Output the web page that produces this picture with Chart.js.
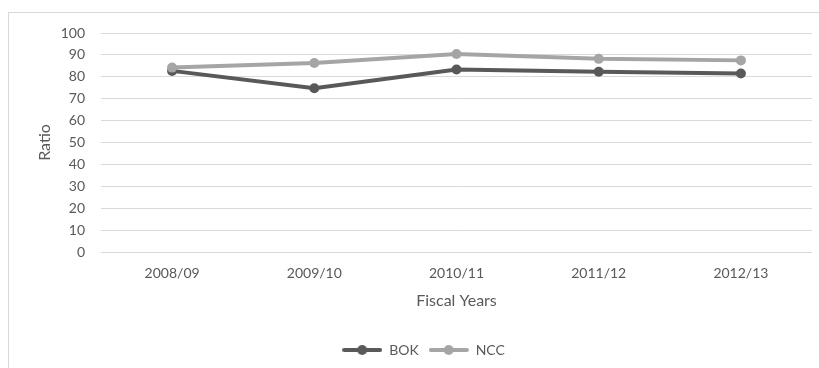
<!DOCTYPE html>
<html>
<head>
<meta charset="utf-8">
<script src="https://cdn.jsdelivr.net/npm/chart.js@4/dist/chart.umd.min.js"></script>
<style>
  html, body { margin: 0; padding: 0; background: #ffffff; overflow: hidden; }
  #frame { position: absolute; left: 8px; top: 12px; width: 830px; height: 380px;
           border: 1px solid #d9d9d9; box-sizing: border-box; }
  #wrap { position: absolute; left: 0; top: 0; width: 819px; height: 368px; }
</style>
</head>
<body>
<div id="frame"></div>
<div id="wrap"><canvas id="chart" width="819" height="368"></canvas></div>
<script>
// Fiscal years and the ratio for each institution
const fiscalYears = ['2008/09', '2009/10', '2010/11', '2011/12', '2012/13'];
const bokRatio = [82.7, 74.8, 83.3, 82.3, 81.5];
const nccRatio = [84.2, 86.3, 90.4, 88.2, 87.5];
const yTicks = [0, 10, 20, 30, 40, 50, 60, 70, 80, 90, 100];

const BOK_COLOR = '#595959';
const NCC_COLOR = '#a5a5a5';
const TEXT_COLOR = '#595959';
const GRID_COLOR = '#d9d9d9';
const FONT = 'Lato, "Open Sans", sans-serif';

// Legend marker: a short line with a dot in the middle
function legendMarker(color) {
  const c = document.createElement('canvas');
  c.width = 40; c.height = 12;
  const g = c.getContext('2d');
  g.strokeStyle = color; g.lineWidth = 4; g.lineCap = 'round';
  g.beginPath(); g.moveTo(2, 6); g.lineTo(38, 6); g.stroke();
  g.fillStyle = color;
  g.beginPath(); g.arc(20, 6, 5, 0, Math.PI * 2); g.fill();
  return c;
}

new Chart(document.getElementById('chart'), {
  type: 'line',
  data: {
    labels: fiscalYears,
    datasets: [
      { label: 'BOK', data: bokRatio, borderColor: BOK_COLOR, backgroundColor: BOK_COLOR,
        borderWidth: 4, pointRadius: 5, pointBorderWidth: 0, pointBackgroundColor: BOK_COLOR,
        tension: 0, order: 2, pointStyle: 'circle', legendMarker: legendMarker(BOK_COLOR) },
      { label: 'NCC', data: nccRatio, borderColor: NCC_COLOR, backgroundColor: NCC_COLOR,
        borderWidth: 4, pointRadius: 5, pointBorderWidth: 0, pointBackgroundColor: NCC_COLOR,
        tension: 0, order: 1, pointStyle: 'circle', legendMarker: legendMarker(NCC_COLOR) }
    ]
  },
  options: {
    responsive: false,
    animation: false,
    devicePixelRatio: 1,
    layout: { padding: { left: 35, right: 7, top: 33, bottom: 1 } },
    plugins: {
      tooltip: { enabled: false },
      legend: {
        position: 'bottom',
        labels: {
          color: TEXT_COLOR,
          font: { family: FONT, size: 14 },
          usePointStyle: true,
          pointStyleWidth: 40,
          boxHeight: 12,
          padding: 10,
          sort: (a, b) => a.datasetIndex - b.datasetIndex,
          generateLabels(chart) {
            return chart.data.datasets.map((ds, i) => ({
              text: ds.label,
              fontColor: TEXT_COLOR,
              pointStyle: ds.legendMarker,
              lineWidth: 0,
              strokeStyle: 'transparent',
              fillStyle: ds.borderColor,
              hidden: false,
              datasetIndex: i
            }));
          }
        }
      }
    },
    scales: {
      x: {
        offset: true,
        grid: { display: false, drawTicks: false },
        border: { display: false },
        ticks: { color: TEXT_COLOR, font: { family: FONT, size: 14 }, padding: 13, maxRotation: 0 },
        title: { display: true, text: 'Fiscal Years', color: TEXT_COLOR,
                 font: { family: FONT, size: 16 }, padding: { top: 0, bottom: 23 } },
        afterFit(scale) { scale.height = 81; }
      },
      y: {
        min: 0, max: 100,
        afterBuildTicks(scale) { scale.ticks = yTicks.map(v => ({ value: v })); },
        grid: { color: GRID_COLOR, lineWidth: 1, drawTicks: false },
        border: { display: false },
        ticks: { color: TEXT_COLOR, font: { family: FONT, size: 14 }, padding: 16 },
        title: { display: true, text: 'Ratio', color: TEXT_COLOR,
                 font: { family: FONT, size: 16 }, padding: 0 },
        afterFit(scale) { scale.width = 66; }
      }
    }
  }
});
</script>
</body>
</html>
